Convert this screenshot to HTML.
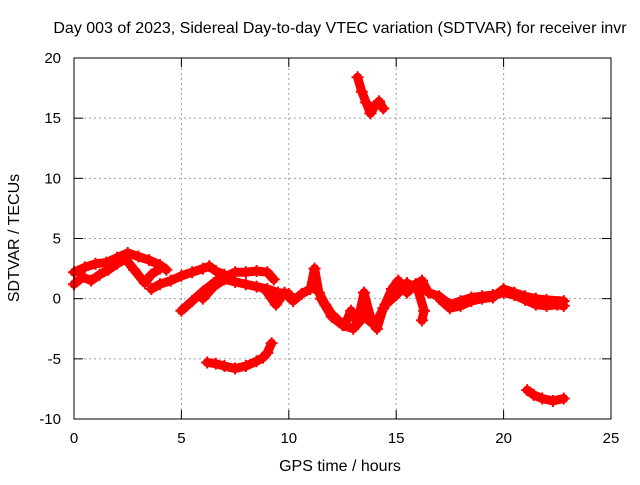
<!DOCTYPE html>
<html><head><meta charset="utf-8"><style>
body{margin:0;background:#fff;font-family:"Liberation Sans",sans-serif}
svg text{font-family:"Liberation Sans",sans-serif;font-size:15px;fill:#000}
svg text.big{font-size:16px}
</style></head><body>
<svg id="c" width="640" height="480">
<text class="big" x="340" y="33" text-anchor="middle">Day 003 of 2023, Sidereal Day-to-day VTEC variation (SDTVAR) for receiver invr</text>
<text class="big" x="340" y="471" text-anchor="middle">GPS time / hours</text>
<text class="big" x="0" y="0" transform="translate(19,238) rotate(-90)" text-anchor="middle">SDTVAR / TECUs</text>
<g id="grid"></g>
<g id="ticks"></g>
<g id="marks"></g>
<rect x="74" y="58" width="537" height="361" fill="none" stroke="#000" stroke-width="1"/>
</svg>
<script>
const xTicks=[0,5,10,15,20,25];
const yTicks=[-10,-5,0,5,10,15,20];
const trackA=[[0,2.2],[0.5,2.6],[1,2.9],[1.5,3.0],[2,3.4],[2.5,3.8],[3,3.5],[3.5,3.2],[4,2.8],[4.3,2.4]];
const trackB=[[0,1.2],[0.4,1.8],[0.8,1.5],[1.2,2.0],[1.6,2.4],[2,2.9],[2.4,3.3],[2.8,2.4],[3.3,1.3],[3.6,2.0],[4,2.5]];
const trackC=[[3.6,0.8],[4,1.2],[4.5,1.5],[5,1.9],[5.5,2.2],[6,2.5],[6.3,2.7],[6.6,2.3],[7,2.0]];
const trackD=[[5,-1],[5.5,-0.2],[6,0.6],[6.5,1.3],[7,1.8],[7.5,2.2],[8,2.2],[8.5,2.3],[9,2.2],[9.3,1.6]];
const trackE=[[6,0],[6.5,1],[7,1.6],[7.5,1.4],[8,1.2],[8.5,1.0],[9,0.8],[9.5,0.5],[10,0.4]];
const trackF=[[9,0.5],[9.4,-0.5],[9.8,0.5],[10.2,-0.2],[10.6,0.4],[11,0.8],[11.2,2.5],[11.4,0.5],[11.7,-0.5],[12,-1.3],[12.3,-1.8],[12.6,-2.2],[12.9,-1.0],[13.2,-2.0],[13.5,0.5],[13.8,-1.5],[14.1,-2.5],[14.4,-0.8],[14.8,0.8],[15.1,1.5],[15.5,0.5],[15.9,1.2],[16.2,1.5],[16.5,0.5],[17,0.2],[17.5,-0.5],[18,-0.2],[18.5,0.1],[19,0.2],[19.5,0.3],[20,0.5],[20.5,0.3],[21,-0.1],[21.5,-0.5],[22,-0.6],[22.5,-0.5],[22.8,-0.6]];
const trackG=[[11.5,0],[12,-1.5],[12.5,-2.2],[13,-2.5],[13.5,-1.5],[14,-2.2],[14.5,-0.5],[15,0.3],[15.5,1.3],[16,0.8],[16.3,-1.0],[16.2,-1.8]];
const trackH=[[17,0],[17.5,-0.8],[18,-0.6],[18.5,-0.2],[19,0],[19.5,0.1],[20,0.8],[20.5,0.5],[21,0.2],[21.5,0],[22,-0.1],[22.8,-0.2]];
const trackI=[[6.2,-5.3],[6.6,-5.4],[7,-5.6],[7.5,-5.8],[8,-5.6],[8.5,-5.2],[8.8,-4.9],[9,-4.5],[9.2,-3.7]];
const trackJ=[[21.1,-7.6],[21.4,-8.0],[21.8,-8.3],[22.3,-8.5],[22.8,-8.3]];
const trackK=[[13.2,18.4],[13.4,17.2],[13.6,16.3],[13.8,15.4],[14,16.0],[14.2,16.4],[14.4,15.8]];
const tracks=[trackA,trackB,trackC,trackD,trackE,trackF,trackG,trackH,trackI,trackJ,trackK];
const NS="http://www.w3.org/2000/svg";
const X=h=>74+h*(537/25);
const Y=v=>419-(v+10)*(361/30);
const grid=document.getElementById('grid'),ticks=document.getElementById('ticks'),marks=document.getElementById('marks');
function mk(t,a,p){const e=document.createElementNS(NS,t);for(const k in a)e.setAttribute(k,a[k]);p.appendChild(e);return e;}
xTicks.forEach(t=>{
 const x=X(t);
 if(t>0&&t<25){const g=mk('line',{x1:x,y1:58,x2:x,y2:419,stroke:'#a0a0a0','stroke-dasharray':'2,3'},grid);
 
 }
 mk('line',{x1:x,y1:419,x2:x,y2:410,stroke:'#000'},ticks);
 mk('line',{x1:x,y1:58,x2:x,y2:67,stroke:'#000'},ticks);
 const l=mk('text',{x:x,y:443,'text-anchor':'middle'},ticks);l.textContent=t;
 
 
});
yTicks.forEach(t=>{
 const y=Y(t);
 if(t>-10&&t<20){const g=mk('line',{x1:74,y1:y,x2:611,y2:y,stroke:'#a0a0a0','stroke-dasharray':'2,3'},grid);
 
 }
 mk('line',{x1:74,y1:y,x2:83,y2:y,stroke:'#000'},ticks);
 mk('line',{x1:611,y1:y,x2:602,y2:y,stroke:'#000'},ticks);
 const l=mk('text',{x:61,y:y+5,'text-anchor':'end'},ticks);l.textContent=t;
 
 
});
tracks.forEach(tr=>{
 const pl=mk('polyline',{points:tr.map(p=>X(p[0])+','+Y(p[1])).join(' '),fill:'none',stroke:'#f00','stroke-width':9,'stroke-linejoin':'round','stroke-linecap':'round'},marks);
 
 
 tr.forEach(p=>{
  const x=X(p[0]),y=Y(p[1]);
  const m=mk('path',{d:`M${x-6},${y}H${x+6}M${x},${y-6}V${y+6}`,stroke:'#f00','stroke-width':2},marks);
  
  
 });
});
</script>
</body></html>
